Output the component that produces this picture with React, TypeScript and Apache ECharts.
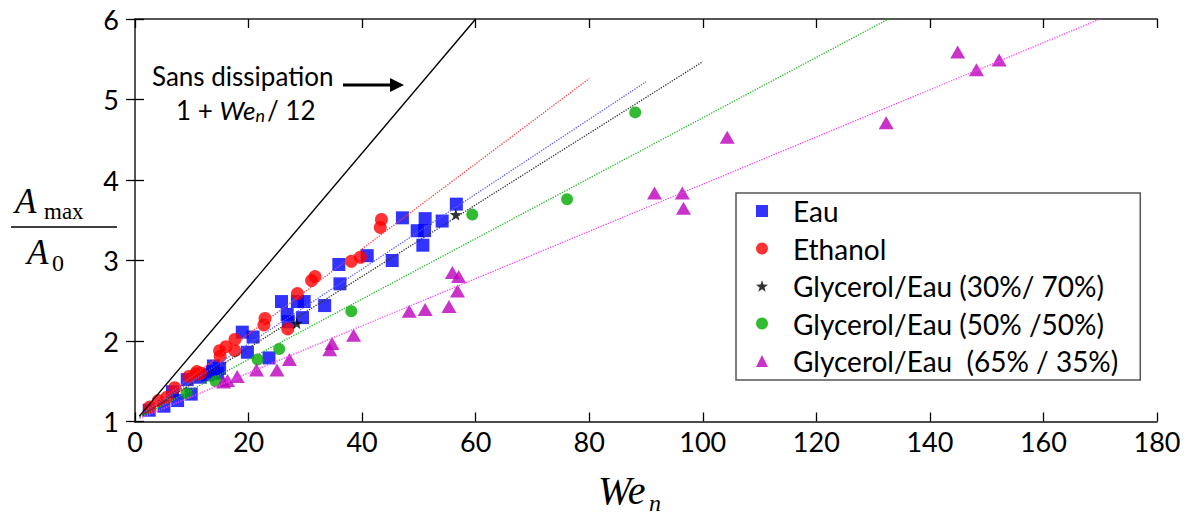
import React, { useEffect, useRef } from "react";
import * as echarts from "echarts";

// ---- data (We_n, Amax/A0) ----
const eau: number[][] = [
  [2.5, 1.14], [5.1, 1.19], [7.5, 1.26], [6.6, 1.37], [9.9, 1.34], [9.2, 1.52],
  [11.5, 1.55], [12.8, 1.58], [13.6, 1.62], [14.5, 1.6], [13.8, 1.69], [14.9, 1.66],
  [19.8, 1.86], [18.9, 2.11], [20.8, 2.05], [23.6, 1.79], [25.8, 2.49], [26.8, 2.33],
  [27.0, 2.24], [28.6, 2.49], [29.8, 2.49], [29.5, 2.29], [33.4, 2.44], [35.9, 2.95],
  [36.1, 2.71], [40.9, 3.06], [45.3, 3.0], [47.1, 3.53], [49.7, 3.37], [51.0, 3.37],
  [50.7, 3.19], [51.1, 3.52], [54.1, 3.49], [56.6, 3.7],
];
const ethanol: number[][] = [
  [2.6, 1.18], [4.1, 1.26], [5.6, 1.3], [7.0, 1.42], [9.5, 1.56], [10.7, 1.59],
  [11.6, 1.6], [10.9, 1.62], [15.0, 1.81], [14.9, 1.88], [16.0, 1.93], [17.6, 1.88],
  [17.6, 2.02], [22.9, 2.28], [22.7, 2.2], [26.9, 2.15], [28.6, 2.59], [31.1, 2.75],
  [31.7, 2.8], [38.1, 2.99], [39.7, 3.04], [43.2, 3.41], [43.4, 3.51],
];
const glyc30: number[][] = [[28.5, 2.22], [56.5, 3.57]];
const glyc50: number[][] = [
  [9.1, 1.35], [14.2, 1.5], [21.6, 1.77], [25.4, 1.9], [38.1, 2.37], [59.4, 3.57],
  [76.1, 3.76], [88.1, 4.84],
];
const glyc65: number[][] = [
  [15.6, 1.49], [16.3, 1.51], [18.0, 1.56], [21.4, 1.64], [25.0, 1.64], [27.2, 1.77],
  [34.3, 1.89], [34.7, 1.97], [38.5, 2.07], [48.3, 2.37], [51.1, 2.39], [55.3, 2.43],
  [55.9, 2.85], [57.0, 2.8], [56.8, 2.62], [91.5, 3.84], [96.4, 3.84], [96.6, 3.65],
  [104.3, 4.53], [132.3, 4.71], [144.9, 5.59], [148.2, 5.37], [152.2, 5.49],
];

// fit lines (start / end points)
const fitEau: number[][] = [[0.8, 1.07], [90, 5.22]];
const fitEthanol: number[][] = [[0.8, 1.07], [80, 5.26]];
const fit30: number[][] = [[0.8, 1.06], [100, 5.47]];
const fit50: number[][] = [[0.8, 1.05], [132.7, 6.0]];
const fit65: number[][] = [[0.8, 1.04], [170, 6.0]];
const noDissipation: number[][] = [[0.8, 1.07], [60, 6.0]];

const xTicks = { min: 0, max: 180, interval: 20 };
const yTicks = { min: 1, max: 6, interval: 1 };

const names = [
  "Eau",
  "Ethanol",
  "Glycerol/Eau (30%/ 70%)",
  "Glycerol/Eau (50% /50%)",
  "Glycerol/Eau  (65% / 35%)",
];

const STAR =
  "path://M0,-10 L2.35,-3.24 L9.51,-3.09 L3.8,1.24 L5.88,8.09 L0,4 L-5.88,8.09 L-3.8,1.24 L-9.51,-3.09 L-2.35,-3.24 Z";

export default function App() {
  const ref = useRef<HTMLDivElement>(null);
  useEffect(() => {
    if (!ref.current) return;
    const chart = echarts.init(ref.current, undefined, { renderer: "svg" });
    const font = "Lato";
    const fit = (name: string, data: number[][], color: string, type: any = "dotted", width = 1.3) => ({
      name,
      type: "line",
      data,
      symbol: "none",
      silent: true,
      z: 5,
      lineStyle: { color, width, type },
    });
    const axisCommon = {
      type: "value",
      splitLine: { show: false },
      axisTick: { show: true, inside: true, length: 9, lineStyle: { color: "#000", width: 1.3 } },
    };
    chart.setOption({
      animation: false,
      backgroundColor: "#fff",
      grid: { left: 135, right: 41, top: 19, bottom: 96.5, containLabel: false },
      xAxis: [
        {
          ...axisCommon,
          ...xTicks,
          position: "bottom",
          axisLine: { lineStyle: { color: "#111", width: 1.6 } },
          axisLabel: { fontFamily: font, fontSize: 27, color: "#000", margin: 6 },
        },
        {
          ...axisCommon,
          ...xTicks,
          position: "top",
          axisLine: { lineStyle: { color: "#555", width: 2 } },
          axisLabel: { show: false },
        },
      ],
      yAxis: [
        {
          ...axisCommon,
          ...yTicks,
          position: "left",
          axisLine: { lineStyle: { color: "#000", width: 1.6 } },
          axisLabel: { fontFamily: font, fontSize: 27, color: "#000", margin: 16 },
        },
        {
          ...axisCommon,
          ...yTicks,
          position: "right",
          axisLine: { lineStyle: { color: "#555", width: 2 } },
          axisLabel: { show: false },
        },
      ],
      legend: {
        data: names,
        orient: "vertical",
        left: 736,
        top: 193,
        padding: [3, 22, 4, 20],
        itemGap: 7.5,
        itemWidth: 12,
        itemHeight: 12,
        borderColor: "#555",
        borderWidth: 1.5,
        backgroundColor: "#fff",
        selectedMode: false,
        textStyle: {
          fontFamily: font,
          fontSize: 28,
          lineHeight: 30,
          color: "#000",
          padding: [0, 0, 0, 20],
        },
      },
      series: [
        { name: names[0], type: "scatter", data: eau, symbol: "rect", symbolSize: 13, itemStyle: { color: "#0000ff" }, z: 3 },
        { name: names[1], type: "scatter", data: ethanol, symbol: "circle", symbolSize: 13, itemStyle: { color: "#ff0000" }, z: 3 },
        { name: names[2], type: "scatter", data: glyc30, symbol: STAR, symbolSize: 12, itemStyle: { color: "#000" }, z: 4 },
        { name: names[3], type: "scatter", data: glyc50, symbol: "circle", symbolSize: 12, itemStyle: { color: "#00aa00" }, z: 3 },
        { name: names[4], type: "scatter", data: glyc65, symbol: "triangle", symbolSize: [15, 13], itemStyle: { color: "#bb00bb" }, z: 3 },
        fit("fitEau", fitEau, "#5c5cff"),
        fit("fitEthanol", fitEthanol, "#ff4040"),
        fit("fit30", fit30, "#333333"),
        fit("fit50", fit50, "#22bb22"),
        fit("fit65", fit65, "#ff44ff"),
        fit("noDissipation", noDissipation, "#000", "solid", 1.4),
      ],
      graphic: [
        // annotation
        {
          type: "text",
          left: 152,
          top: 63,
          style: { text: "Sans dissipation", fontFamily: font, fontSize: 26, fill: "#000" },
        },
        {
          type: "text",
          left: 176,
          top: 97,
          style: {
            text: "{r|1 + }{i|We}{s|n}{r|/ 12}",
            fontFamily: font,
            fontSize: 26,
            fill: "#000",
            rich: {
              r: { fontFamily: font, fontSize: 26, fill: "#000" },
              i: { fontFamily: font, fontSize: 26, fontStyle: "italic", fill: "#000" },
              s: { fontFamily: font, fontSize: 18, fontStyle: "italic", fill: "#000", padding: [10, 2, 0, 0] },
            },
          },
        },
        {
          type: "line",
          shape: { x1: 343, y1: 85, x2: 393, y2: 85 },
          style: { stroke: "#000", lineWidth: 3 },
        },
        {
          type: "polygon",
          shape: { points: [[390, 78], [404, 85], [390, 92]] },
          style: { fill: "#000" },
        },
        // y axis title (fraction)
        {
          type: "text",
          x: 15,
          y: 201,
          style: {
            text: "A",
            fontFamily: "Liberation Serif",
            fontStyle: "italic",
            fontSize: 35,
            fill: "#000",
            verticalAlign: "middle",
          },
        },
        {
          type: "text",
          x: 44,
          y: 211,
          style: { text: "max", fontFamily: "Liberation Serif", fontSize: 23, fill: "#000", verticalAlign: "middle" },
        },
        {
          type: "line",
          shape: { x1: 11, y1: 227, x2: 117, y2: 227 },
          style: { stroke: "#000", lineWidth: 1.6 },
        },
        {
          type: "text",
          x: 27,
          y: 252,
          style: {
            text: "A",
            fontFamily: "Liberation Serif",
            fontStyle: "italic",
            fontSize: 35,
            fill: "#000",
            verticalAlign: "middle",
          },
        },
        {
          type: "text",
          x: 52,
          y: 263,
          style: { text: "0", fontFamily: "Liberation Serif", fontSize: 24, fill: "#000", verticalAlign: "middle" },
        },
        // x axis title
        {
          type: "text",
          x: 598,
          y: 490,
          style: {
            text: "We",
            fontFamily: "Liberation Serif",
            fontStyle: "italic",
            fontSize: 40,
            fill: "#000",
            verticalAlign: "middle",
          },
        },
        {
          type: "text",
          x: 649,
          y: 503,
          style: {
            text: "n",
            fontFamily: "Liberation Serif",
            fontStyle: "italic",
            fontSize: 24,
            fill: "#000",
            verticalAlign: "middle",
          },
        },
      ],
    });
    return () => chart.dispose();
  }, []);
  return (
    <div
      ref={ref}
      style={{ position: "fixed", left: 0, top: 0, width: 1198, height: 518, background: "#fff" }}
    />
  );
}
